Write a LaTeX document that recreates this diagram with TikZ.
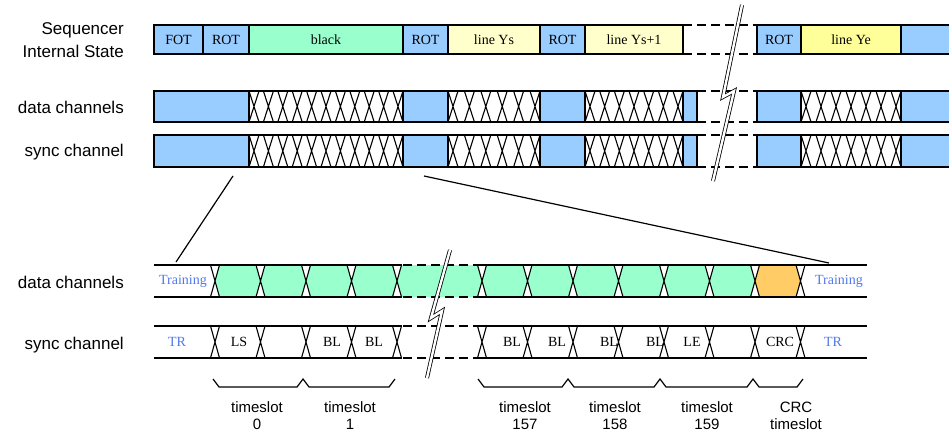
\documentclass[tikz,border=0pt]{standalone}
\usepackage{fontspec}
\setmainfont{Liberation Serif}
\newfontfamily\labfont{Liberation Sans}
\definecolor{cblue}{RGB}{153,204,255}
\definecolor{cgreen}{RGB}{153,255,204}
\definecolor{cyel}{RGB}{255,255,204}
\definecolor{cyelb}{RGB}{255,255,153}
\definecolor{corange}{RGB}{255,204,102}
\definecolor{ctrain}{RGB}{80,120,235}
\newcommand\xrun[5]{%
  \pgfmathsetmacro\xgap{(#2-#1-#3*10)/(#3-1)}%
  \foreach \i in {1,...,#3}{%
    \pgfmathsetmacro\xL{#1+(\i-1)*(10+\xgap)}%
    \draw[xl] (\xL,#4) -- (\xL+10,#5) (\xL,#5) -- (\xL+10,#4);
  }}
\tikzset{
  cellb/.style={draw=black, line width=1.5pt},
  xl/.style={draw=black, line width=1.1pt},
  rowl/.style={draw=black, line width=1.6pt},
  dashline/.style={dash pattern=on 9pt off 5pt, line width=1.9pt},
  ctext/.style={font=\fontsize{14}{16}\selectfont, inner sep=0pt},
  btext/.style={font=\fontsize{14}{16}\selectfont, inner sep=0pt, text=ctrain},
  lab/.style={font=\labfont\fontsize{17}{23}\selectfont, inner sep=0pt, anchor=east, align=right},
  tslab/.style={font=\labfont\fontsize{15}{17}\selectfont, inner sep=0pt, align=center},
  brk/.style={draw=black, line width=0.8pt, double=white, double distance=2.4pt},
  brace/.style={draw=black, line width=1.2pt},
  zoomline/.style={draw=black, line width=1.2pt}
}
\begin{document}
\begin{tikzpicture}[x=1pt,y=-1pt]
\useasboundingbox (0,0) rectangle (949,433);
% left labels
\node[lab] (l1) at (124,40) {Sequencer\\Internal State};
\node[lab] (l2) at (124,107) {data channels};
\node[lab] (l3) at (124,152) {sync channel};
\node[lab] (l4) at (124,282) {data channels};
\node[lab] (l5) at (124,345) {sync channel};
% sequencer row
\foreach \a/\b/\c/\t [count=\k] in {154/203/cblue/FOT,203/249/cblue/ROT,249/403/cgreen/black,403/448/cblue/ROT,448/540/cyel/line Ys,540/585/cblue/ROT,585/683/cyel/line Ys+1,757/801/cblue/ROT,801/901/cyelb/line Ye}{
  \draw[cellb, fill=\c] (\a,25) rectangle (\b,54);
  \node[ctext] (c\k) at ({(\a+\b)/2},39.5) {\t};
}
\fill[cblue] (901,25) rectangle (949,54);
\draw[cellb] (949,25) -- (901,25) -- (901,54) -- (949,54);
\draw[cellb, dashline] (683,25) -- (757,25) (683,54) -- (757,54);
% data and sync rows (top)
\foreach \ya/\yb in {91/122,135/167}{
  \fill[cblue] (154,\ya) rectangle (249,\yb);
  \fill[cblue] (403,\ya) rectangle (448,\yb);
  \fill[cblue] (540,\ya) rectangle (585,\yb);
  \fill[cblue] (683,\ya) rectangle (697,\yb);
  \fill[cblue] (757,\ya) rectangle (801,\yb);
  \fill[cblue] (901,\ya) rectangle (949,\yb);
  \xrun{249}{403}{11}{\ya}{\yb}
  \xrun{448}{540}{6}{\ya}{\yb}
  \xrun{585}{683}{7}{\ya}{\yb}
  \xrun{801}{901}{7}{\ya}{\yb}
  \draw[cellb] (154,\ya) rectangle (697,\yb);
  \foreach \v in {249,403,448,540,585,683,801,901} \draw[cellb] (\v,\ya) -- (\v,\yb);
  \draw[cellb] (949,\ya) -- (757,\ya) -- (757,\yb) -- (949,\yb);
  \draw[cellb, dashline] (697,\ya) -- (757,\ya) (697,\yb) -- (757,\yb);
}
% zoom lines
\coordinate (z1) at (233,176);
\coordinate (z2) at (176,262);
\coordinate (z3) at (424,176);
\coordinate (z4) at (829,263);
\draw[zoomline] (z1) -- (z2);
\draw[zoomline] (z3) -- (z4);
% lower rows: fills
\foreach \p/\q in {215/260.5,260.5/306,306/351.5,351.5/397,397/482,482/527.5,527.5/573,573/618.5,618.5/664,664/709.5,709.5/755}
  \fill[cgreen] (\p,281) -- (\p+4.5,265) -- (\q-4.5,265) -- (\q,281) -- (\q-4.5,297) -- (\p+4.5,297) -- cycle;
\fill[corange] (755,281) -- (759.5,265) -- (796,265) -- (800.5,281) -- (796,297) -- (759.5,297) -- cycle;
% lower rows: texts
\node[btext] (tr1) at (183,281) {Training};
\node[btext] (tr2) at (839,281) {Training};
\node[btext] (tr3) at (177,342) {TR};
\node[btext] (tr4) at (833,342) {TR};
\node[ctext] (s1) at (239,342) {LS};
\node[ctext] (s2) at (332,342) {BL};
\node[ctext] (s3) at (374,342) {BL};
\node[ctext] (s4) at (512,342) {BL};
\node[ctext] (s5) at (557,342) {BL};
\node[ctext] (s6) at (609,342) {BL};
\node[ctext] (s7) at (655,342) {BL};
\node[ctext] (s8) at (692,342) {LE};
\node[ctext] (s9) at (780,342) {CRC};
% lower rows: lines
\foreach \ya in {265,297,326,358}{
  \draw[rowl] (154,\ya) -- (401.5,\ya);
  \draw[rowl, dashline] (403,\ya) -- (477.5,\ya);
  \draw[rowl] (477.5,\ya) -- (867,\ya);
}
\foreach \c in {215,260.5,306,351.5,397,482,527.5,573,618.5,664,709.5,755,800.5}{
  \draw[xl] (\c-4.5,265) -- (\c+4.5,297) (\c-4.5,297) -- (\c+4.5,265);
  \draw[xl] (\c-4.5,326) -- (\c+4.5,358) (\c-4.5,358) -- (\c+4.5,326);
}
% break symbols
\draw[brk] (742,5) -- (723,97) -- (734,91) -- (713,181);
\draw[brk] (450,250) -- (431,318) -- (442,311) -- (427,378);
% braces
\draw[brace] (213,379) -- (219,387) -- (297,387) -- (303,379) -- (309,387) -- (389,387) -- (395,379);
\draw[brace] (478,379) -- (484,387) -- (562,387) -- (568,379) -- (574,387) -- (654,387) -- (660,379) -- (666,387) -- (747,387) -- (753,379) -- (759,387) -- (797,387) -- (803,379);
% timeslot labels
\node[tslab] (ts0) at (257,416) {timeslot\\0};
\node[tslab] (ts1) at (350,416) {timeslot\\1};
\node[tslab] (ts157) at (525,416) {timeslot\\157};
\node[tslab] (ts158) at (615,416) {timeslot\\158};
\node[tslab] (ts159) at (707,416) {timeslot\\159};
\node[tslab] (tscrc) at (796,416) {CRC\\timeslot};
\end{tikzpicture}
\end{document}
